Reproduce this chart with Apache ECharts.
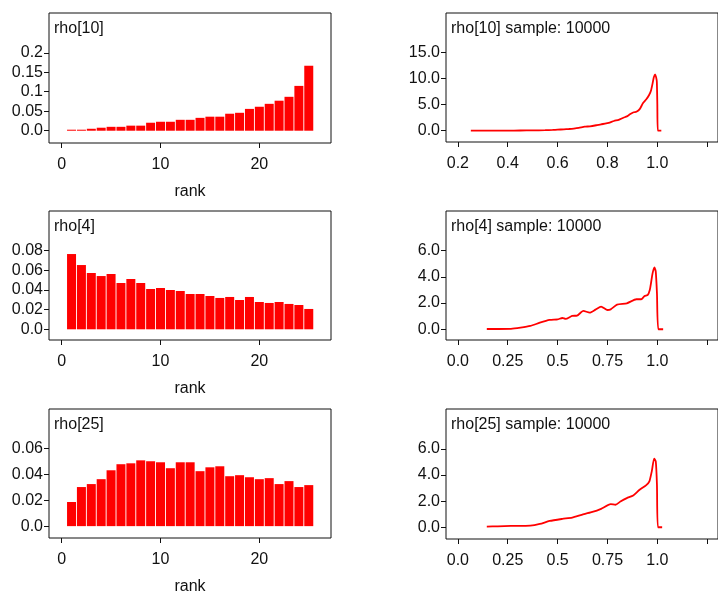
<!DOCTYPE html>
<html><head><meta charset="utf-8">
<script src="https://cdn.jsdelivr.net/npm/echarts@6/dist/echarts.min.js"></script>
<style>html,body{margin:0;padding:0;background:#fff}#c{width:718px;height:596px}</style>
</head><body><div id="c"></div><script>
// ---- data ----
const ranks = [1,2,3,4,5,6,7,8,9,10,11,12,13,14,15,16,17,18,19,20,21,22,23,24,25];
const rho10Rank = [0.0026,0.0026,0.005,0.0077,0.010,0.010,0.013,0.013,0.0205,0.023,0.023,0.028,0.028,0.033,0.036,0.036,0.0436,0.046,0.056,0.0615,0.069,0.077,0.087,0.115,0.1667];
const rho4Rank = [0.0766,0.0654,0.0573,0.0542,0.0563,0.0471,0.0512,0.0471,0.041,0.042,0.040,0.039,0.0359,0.0359,0.0339,0.0319,0.0329,0.0298,0.0329,0.0278,0.0268,0.0278,0.0258,0.0247,0.0207];
const rho25Rank = [0.0187,0.0303,0.0326,0.0364,0.0433,0.048,0.0487,0.051,0.0503,0.0495,0.0449,0.0495,0.0495,0.0426,0.0456,0.0464,0.0387,0.0395,0.0379,0.0364,0.0372,0.0326,0.0349,0.0303,0.0318];

const rho10DensX = [0.252,0.30,0.35,0.40,0.45,0.50,0.55,0.58,0.60,0.625,0.645,0.665,0.685,0.709,0.73,0.755,0.774,0.79,0.805,0.826,0.845,0.864,0.878,0.89,0.905,0.916,0.93,0.942,0.955,0.967,0.975,0.981,0.986,0.991,0.995,0.998,1.000,1.002,1.016];
const rho10DensY = [0.0,0.01,0.02,0.03,0.04,0.06,0.1,0.15,0.2,0.26,0.33,0.42,0.55,0.77,0.85,1.05,1.23,1.35,1.5,1.87,2.1,2.5,2.75,3.15,3.55,3.65,4.2,5.27,6.0,6.87,7.8,9.1,10.3,10.85,10.3,9.4,5.0,0.0,0.0];
const rho4DensX = [0.145,0.2,0.266,0.314,0.363,0.411,0.46,0.5,0.524,0.54,0.573,0.597,0.629,0.661,0.69,0.718,0.75,0.766,0.798,0.847,0.895,0.919,0.936,0.952,0.962,0.968,0.976,0.985,0.992,0.998,1.005,1.029];
const rho4DensY = [0.02,0.02,0.03,0.12,0.25,0.5,0.71,0.76,0.86,0.79,1.02,1.04,1.4,1.27,1.5,1.73,1.47,1.52,1.88,1.98,2.29,2.29,2.54,2.62,3.0,3.51,4.27,4.73,4.4,2.75,0,0];
const rho25DensX = [0.145,0.2,0.266,0.363,0.411,0.46,0.524,0.573,0.621,0.67,0.718,0.766,0.79,0.815,0.847,0.879,0.911,0.943,0.96,0.972,0.984,0.992,0.998,1.003,1.024];
const rho25DensY = [0.05,0.07,0.1,0.12,0.25,0.48,0.64,0.74,0.95,1.15,1.41,1.77,1.72,1.97,2.23,2.43,2.87,3.2,3.51,4.28,5.25,5.05,3.25,0,0];

// tick values / labels
const rankTickVals = [0,10,20];
const rankTickLabels = ['0','10','20'];
const rho10YTickVals = [0,0.05,0.1,0.15,0.2];
const rho10YTickLabels = ['0.0','0.05','0.1','0.15','0.2'];
const rho4YTickVals = [0,0.02,0.04,0.06,0.08];
const rho4YTickLabels = ['0.0','0.02','0.04','0.06','0.08'];
const rho25YTickVals = [0,0.02,0.04,0.06];
const rho25YTickLabels = ['0.0','0.02','0.04','0.06'];
const dens10XTickVals = [0.2,0.4,0.6,0.8,1.0,1.2];
const dens10XLabelVals = [0.2,0.4,0.6,0.8,1.0];
const dens10XLabels = ['0.2','0.4','0.6','0.8','1.0'];
const dens10YTickVals = [0,5,10,15];
const dens10YTickLabels = ['0.0','5.0','10.0','15.0'];
const densXTickVals = [0,0.25,0.5,0.75,1.0,1.25];
const densXLabelVals = [0,0.25,0.5,0.75,1.0];
const densXLabels = ['0.0','0.25','0.5','0.75','1.0'];
const densYTickVals = [0,2,4,6];
const densYTickLabels = ['0.0','2.0','4.0','6.0'];

const titles = ['rho[10]','rho[4]','rho[25]','rho[10] sample: 10000','rho[4] sample: 10000','rho[25] sample: 10000'];

// ---- layout ----
const FONT = 'Liberation Sans, Arial, Helvetica, sans-serif';
const TXT = '#111';
const panels = [
  {left:49, top:13, width:282, height:130, xmin:-1.28, xmax:27.25, ymin:-0.0315, ymax:0.302,
   xt:rankTickVals, xlv:rankTickVals, xl:rankTickLabels, yt:rho10YTickVals, yl:rho10YTickLabels, name:'rank'},
  {left:49, top:211, width:282, height:129, xmin:-1.28, xmax:27.25, ymin:-0.0109, ymax:0.1204,
   xt:rankTickVals, xlv:rankTickVals, xl:rankTickLabels, yt:rho4YTickVals, yl:rho4YTickLabels, name:'rank'},
  {left:49, top:409, width:282, height:130, xmin:-1.28, xmax:27.25, ymin:-0.0092, ymax:0.0908,
   xt:rankTickVals, xlv:rankTickVals, xl:rankTickLabels, yt:rho25YTickVals, yl:rho25YTickLabels, name:'rank'},
  {left:446, top:13, width:282, height:129, xmin:0.1524, xmax:1.2433, ymin:-2.17, ymax:22.63,
   xt:dens10XTickVals, xlv:dens10XLabelVals, xl:dens10XLabels, yt:dens10YTickVals, yl:dens10YTickLabels, name:''},
  {left:446, top:211, width:282, height:129, xmin:-0.0595, xmax:1.304, ymin:-0.82, ymax:9.03,
   xt:densXTickVals, xlv:densXLabelVals, xl:densXLabels, yt:densYTickVals, yl:densYTickLabels, name:''},
  {left:446, top:409, width:282, height:130, xmin:-0.0595, xmax:1.304, ymin:-0.9, ymax:9.05,
   xt:densXTickVals, xlv:densXLabelVals, xl:densXLabels, yt:densYTickVals, yl:densYTickLabels, name:''}
];

function fmt(vals, labels){
  return function(v){
    for (let i=0;i<vals.length;i++) if (Math.abs(vals[i]-v)<1e-9) return labels[i];
    return '';
  };
}

const grid=[], xAxis=[], yAxis=[], title=[];
panels.forEach((p,i)=>{
  grid.push({left:p.left, top:p.top, width:p.width, height:p.height, show:true,
    borderColor:'#111', borderWidth:1, backgroundColor:'transparent', containLabel:false});
  xAxis.push({type:'value', gridIndex:i, min:p.xmin, max:p.xmax, position:'bottom',
    axisLine:{show:false, onZero:false}, splitLine:{show:false},
    axisTick:{show:true, inside:false, length:5, customValues:p.xt, lineStyle:{color:'#111', width:1}},
    axisLabel:{show:true, customValues:p.xlv, formatter:fmt(p.xlv,p.xl), margin:14,
      fontFamily:FONT, fontSize:16, color:TXT},
    name:p.name, nameLocation:'middle', nameGap:41,
    nameTextStyle:{fontFamily:FONT, fontSize:16, color:TXT}});
  yAxis.push({type:'value', gridIndex:i, min:p.ymin, max:p.ymax, position:'left',
    axisLine:{show:false, onZero:false}, splitLine:{show:false},
    axisTick:{show:true, inside:false, length:5, customValues:p.yt, lineStyle:{color:'#111', width:1}},
    axisLabel:{show:true, customValues:p.yt, formatter:fmt(p.yt,p.yl), margin:6,
      fontFamily:FONT, fontSize:16, color:TXT}});
  title.push({text:titles[i], left:p.left+5, top:p.top+8, padding:0,
    textStyle:{fontFamily:FONT, fontSize:16, fontWeight:'normal', color:TXT}});
});

const barStyle = {color:'#ff0000'};
const lineStyle = {color:'#ff0000', width:1.8};
const series = [
  {type:'bar', xAxisIndex:0, yAxisIndex:0, barWidth:9, itemStyle:barStyle, data:ranks.map((r,k)=>[r,rho10Rank[k]]), animation:false},
  {type:'bar', xAxisIndex:1, yAxisIndex:1, barWidth:9, itemStyle:barStyle, data:ranks.map((r,k)=>[r,rho4Rank[k]]), animation:false},
  {type:'bar', xAxisIndex:2, yAxisIndex:2, barWidth:9, itemStyle:barStyle, data:ranks.map((r,k)=>[r,rho25Rank[k]]), animation:false},
  {type:'line', xAxisIndex:3, yAxisIndex:3, symbol:'none', smooth:0.2, lineStyle:lineStyle, data:rho10DensX.map((x,k)=>[x,rho10DensY[k]]), animation:false},
  {type:'line', xAxisIndex:4, yAxisIndex:4, symbol:'none', smooth:0.2, lineStyle:lineStyle, data:rho4DensX.map((x,k)=>[x,rho4DensY[k]]), animation:false},
  {type:'line', xAxisIndex:5, yAxisIndex:5, symbol:'none', smooth:0.2, lineStyle:lineStyle, data:rho25DensX.map((x,k)=>[x,rho25DensY[k]]), animation:false}
];

const chart = echarts.init(document.getElementById('c'), null, {renderer:'canvas'});
chart.setOption({animation:false, backgroundColor:'#fff', title, grid, xAxis, yAxis, series});
</script></body></html>
